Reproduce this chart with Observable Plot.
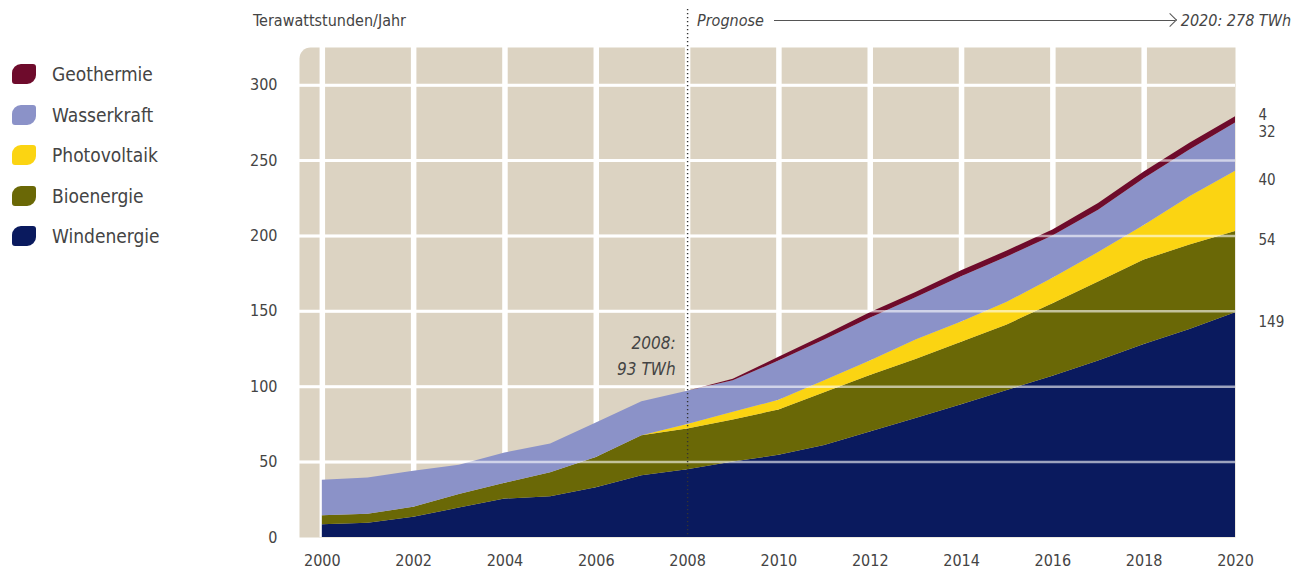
<!DOCTYPE html>
<html>
<head>
<meta charset="utf-8">
<script src="https://cdn.jsdelivr.net/npm/d3@7"></script>
<script src="https://cdn.jsdelivr.net/npm/@observablehq/plot@0.6"></script>
<style>
  html, body { margin: 0; padding: 0; background: #fff; }
  #wrap { position: relative; width: 1295px; height: 574px; font-family: "DejaVu Sans Condensed", "Liberation Sans Narrow", sans-serif; color: #444; }
  #legend { position: absolute; left: 12px; top: 54px; }
  .row { display: flex; align-items: center; height: 40.5px; font-size: 19px; }
  .sw { width: 24px; height: 20px; border-radius: 9px 3px 9px 3px; margin-right: 16px; }
  #unit { position: absolute; left: 253px; top: 11px; font-size: 16px; }
  #head { position: absolute; left: 697px; top: 11px; width: 594px; display: flex; align-items: center; font-size: 16px; font-style: italic; }
  #head .line { flex: 1; position: relative; border-top: 1.3px solid #555; margin: 0 6px 0 10px; height: 0; }
  #head .line::after { content: ""; position: absolute; right: 0; top: -5.6px; width: 9px; height: 9px; border-top: 1.3px solid #555; border-right: 1.3px solid #555; transform: rotate(45deg); }
  #chart { position: absolute; left: 0; top: 0; }
</style>
</head>
<body>
<div id="wrap">
  <div id="chart"></div>
  <div id="legend"></div>
  <div id="unit"></div>
  <div id="head"><span id="prog"></span><span class="line"></span><span id="total"></span></div>
</div>
<script>
// ---- data ----
const years = [2000, 2001, 2002, 2003, 2004, 2005, 2006, 2007, 2008, 2009, 2010,
               2011, 2012, 2013, 2014, 2015, 2016, 2017, 2018, 2019, 2020];
const windenergie  = [8.5, 9.5, 13.5, 19.5, 25.5, 27, 33, 41, 45, 50, 54.5, 61, 70, 79, 88, 97.5, 107, 117, 128, 138, 149];
const bioenergie   = [6, 6, 6.5, 9, 10.5, 16, 20, 26.5, 27, 28, 30, 35, 37.5, 39, 41.5, 43.5, 48, 52.5, 56, 56, 54];
const photovoltaik = [0, 0, 0, 0, 0, 0, 0, 0, 3, 5, 6.5, 8, 9.5, 13, 13.5, 15, 17, 19.5, 23, 32, 40];
const wasserkraft  = [23.5, 24, 24, 19.5, 20, 19, 23, 22.5, 22, 21, 26, 27, 28.5, 28, 30, 30, 28, 28, 31, 31, 32];
const geothermie   = [0, 0, 0, 0, 0, 0, 0, 0, 0, 1, 2.5, 3, 3.5, 3.5, 4, 4, 4, 4.5, 4.5, 4.5, 4];

const seriesNames  = ["Windenergie", "Bioenergie", "Photovoltaik", "Wasserkraft", "Geothermie"];
const seriesValues = [windenergie, bioenergie, photovoltaik, wasserkraft, geothermie];
const seriesColors = ["#0a1a5e", "#6a6806", "#fbd412", "#8b92c8", "#6e0b2c"];
const legendOrder  = ["Geothermie", "Wasserkraft", "Photovoltaik", "Bioenergie", "Windenergie"];
const endLabels    = ["149", "54", "40", "32", "4"];

const xTicks = [2000, 2002, 2004, 2006, 2008, 2010, 2012, 2014, 2016, 2018, 2020];
const yTicks = [0, 50, 100, 150, 200, 250, 300];

const unitLabel = "Terawattstunden/Jahr";
const forecastLabel = "Prognose";
const forecastYear = 2008;
const totalLabel = "2020: 278 TWh";
const note = {year: 2008, value: 93, text: "2008:\n93 TWh"};

// ---- build tables ----
const rows = [];
seriesNames.forEach((name, s) => years.forEach((yr, i) => rows.push({year: yr, source: name, value: seriesValues[s][i]})));

const last = years.length - 1;
let cum = 0;
const ends = seriesNames.map((name, s) => {
  cum += seriesValues[s][last];
  return {year: years[last], top: cum, label: endLabels[s], source: name};
});

const font = "'DejaVu Sans Condensed', 'Liberation Sans Narrow', sans-serif";
const beige = "#dcd3c2";

const chart = Plot.plot({
  width: 1295,
  height: 574,
  marginLeft: 299,
  marginRight: 60,
  marginTop: 47,
  marginBottom: 37,
  style: {fontFamily: font, fontSize: "16px", color: "#444", background: "transparent", overflow: "visible"},
  x: {domain: [1999.5, 2020], ticks: xTicks, tickFormat: d => String(d), tickSize: 0, tickPadding: 17, label: null},
  y: {domain: [0, 325], ticks: yTicks, tickSize: 0, tickPadding: 22, label: null},
  color: {domain: seriesNames, range: seriesColors},
  marks: [
    Plot.frame({fill: beige, stroke: null, rx1y1: 11}),
    Plot.ruleX(xTicks.filter(d => d < 2020), {stroke: "white", strokeWidth: 5.5}),
    Plot.ruleY(yTicks.filter(d => d > 0), {stroke: "white", strokeWidth: 3}),
    Plot.areaY(rows, {x: "year", y: "value", z: "source", fill: "source", order: seriesNames}),
    Plot.ruleY(yTicks.filter(d => d > 0), {stroke: "#ffffff", strokeOpacity: 0.6, strokeWidth: 2.5}),
    Plot.ruleX([forecastYear], {stroke: "#333", strokeWidth: 1.4, strokeDasharray: "1.2,2.8", insetTop: -38}),
    Plot.text([note], {x: "year", y: "value", text: "text", textAnchor: "end", lineAnchor: "bottom",
      dx: -12, dy: -22, lineHeight: 1.55, fontSize: 17, fontStyle: "italic", fill: "#444"}),
    Plot.text(ends.filter(d => d.source !== "Geothermie"), {x: "year", y: "top", text: "label", textAnchor: "start",
      dx: 23, dy: 9, fontSize: 15, fill: "#444"}),
    Plot.text(ends.filter(d => d.source === "Geothermie"), {x: "year", y: "top", text: "label", textAnchor: "start",
      dx: 23, dy: -2, fontSize: 15, fill: "#444"})
  ]
});
document.getElementById("chart").appendChild(chart);

// legend
const legend = document.getElementById("legend");
legendOrder.forEach(name => {
  const row = document.createElement("div");
  row.className = "row";
  const sw = document.createElement("span");
  sw.className = "sw";
  sw.style.background = seriesColors[seriesNames.indexOf(name)];
  const t = document.createElement("span");
  t.textContent = name;
  row.appendChild(sw);
  row.appendChild(t);
  legend.appendChild(row);
});
document.getElementById("unit").textContent = unitLabel;
document.getElementById("prog").textContent = forecastLabel;
document.getElementById("total").textContent = totalLabel;
</script>
</body>
</html>
